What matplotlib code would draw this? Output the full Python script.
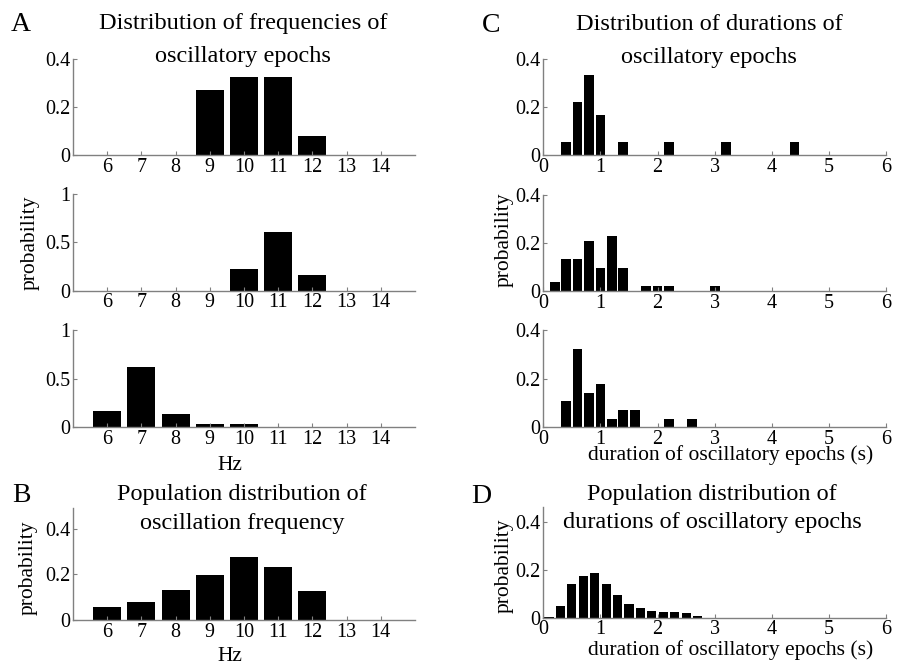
import numpy as np
import matplotlib
matplotlib.use("Agg")
import matplotlib.pyplot as plt
from matplotlib.ticker import FormatStrFormatter

plt.rcParams['font.family'] = ['Liberation Serif', 'DejaVu Serif']

# --- data ---
hz = [6, 7, 8, 9, 10, 11, 12, 13, 14]
freq_cell1 = [0, 0, 0, 0.27, 0.325, 0.325, 0.081, 0, 0]
freq_cell2 = [0, 0, 0, 0, 0.222, 0.611, 0.167, 0, 0]
freq_cell3 = [0.172, 0.62, 0.138, 0.034, 0.034, 0, 0, 0, 0]
freq_pop   = [0.058, 0.078, 0.13, 0.197, 0.277, 0.232, 0.128, 0, 0]

dur_c1 = [0.4, 0.6, 0.8, 1.0, 1.4, 2.2, 3.2, 4.4]
dur_p1 = [0.056, 0.222, 0.333, 0.167, 0.056, 0.056, 0.056, 0.056]
dur_c2 = [0.2, 0.4, 0.6, 0.8, 1.0, 1.2, 1.4, 1.8, 2.0, 2.2, 3.0]
dur_p2 = [0.038, 0.133, 0.133, 0.208, 0.095, 0.228, 0.095, 0.019, 0.019, 0.019, 0.019]
dur_c3 = [0.4, 0.6, 0.8, 1.0, 1.2, 1.4, 1.6, 2.2, 2.6]
dur_p3 = [0.107, 0.321, 0.143, 0.179, 0.036, 0.071, 0.071, 0.036, 0.036]
dur_cpop = [0.1, 0.3, 0.5, 0.7, 0.9, 1.1, 1.3, 1.5, 1.7, 1.9, 2.1, 2.3, 2.5, 2.7]
dur_ppop = [0.005, 0.051, 0.142, 0.173, 0.188, 0.143, 0.097, 0.059, 0.042,
            0.03, 0.025, 0.025, 0.019, 0.007]

W, H = 906, 665
GRAY = '#808080'
fig = plt.figure(figsize=(W / 100, H / 100), dpi=100)


def add_ax(left, top, right, bottom):
    """Axes from pixel box (origin top-left)."""
    return fig.add_axes([left / W, 1 - bottom / H, (right - left) / W, (bottom - top) / H])


def style(ax, xlim, ylim, xticks, yticks):
    for s in ['top', 'right']:
        ax.spines[s].set_visible(False)
    for s in ['left', 'bottom']:
        ax.spines[s].set_color(GRAY)
        ax.spines[s].set_linewidth(1.0)
    ax.tick_params(direction='in', length=3, width=0.8, color=GRAY,
                   labelsize=14.5, pad=2)
    ax.set_xlim(*xlim)
    ax.set_ylim(*ylim)
    ax.set_xticks(xticks)
    ax.set_yticks(yticks)
    ax.yaxis.set_major_formatter(FormatStrFormatter('%g'))
    ax.xaxis.set_major_formatter(FormatStrFormatter('%g'))


def ftext(x, y, s, **kw):
    fig.text(x / W, 1 - y / H, s, **kw)


# --- A: per-cell frequency distributions ---
a_rows = [(59, 155, freq_cell1, (0, 0.4), [0, 0.2, 0.4]),
          (194, 290.7, freq_cell2, (0, 1), [0, 0.5, 1]),
          (330, 427.3, freq_cell3, (0, 1), [0, 0.5, 1])]
for top, bot, vals, ylim, yt in a_rows:
    ax = add_ax(73, top, 415, bot)
    ax.bar(hz, vals, width=0.82, color='black', linewidth=0)
    style(ax, (5, 15), ylim, hz, yt)

# --- B: population frequency ---
axB = add_ax(73, 508.3, 415, 620)
axB.bar(hz, freq_pop, width=0.82, color='black', linewidth=0)
style(axB, (5, 15), (0, 0.49), hz, [0, 0.2, 0.4])

# --- C: per-cell duration distributions ---
c_rows = [(59.3, 155, dur_c1, dur_p1),
          (195, 291, dur_c2, dur_p2),
          (330, 427.3, dur_c3, dur_p3)]
for top, bot, cx, py in c_rows:
    ax = add_ax(543.3, top, 886, bot)
    ax.bar(cx, py, width=0.17, color='black', linewidth=0)
    style(ax, (0, 6), (0, 0.4), range(7), [0, 0.2, 0.4])

# --- D: population duration ---
axD = add_ax(543.3, 506.7, 886, 617.7)
axD.bar(dur_cpop, dur_ppop, width=0.16, color='black', linewidth=0)
style(axD, (0, 6), (0, 0.465), range(7), [0, 0.2, 0.4])

# --- titles, labels ---
tkw = dict(ha='center', va='baseline', fontsize=17.5)
ftext(243, 29.5, 'Distribution of frequencies of', **tkw)
ftext(243, 61.7, 'oscillatory epochs', **tkw)
ftext(709, 29.5, 'Distribution of durations of', **tkw)
ftext(709, 62.5, 'oscillatory epochs', **tkw)
ftext(242, 500, 'Population distribution of', **tkw)
ftext(242, 528.5, 'oscillation frequency', **tkw)
ftext(712, 500, 'Population distribution of', **tkw)
ftext(712, 528, 'durations of oscillatory epochs', **tkw)

pkw = dict(ha='left', va='baseline', fontsize=20)
ftext(11, 31, 'A', **pkw)
ftext(12, 502, 'B', **pkw)
ftext(482, 32, 'C', **pkw)
ftext(471, 503, 'D', **pkw)

lkw = dict(ha='center', va='center', rotation=90, fontsize=15.5)
ftext(30, 243, 'probability', **lkw)
ftext(28, 568, 'probability', **lkw)
ftext(504, 240, 'probability', **lkw)
ftext(504, 566, 'probability', **lkw)

xkw = dict(ha='center', va='baseline', fontsize=15.5)
ftext(230, 470, 'Hz', **xkw)
ftext(230, 661, 'Hz', **xkw)
ftext(731, 460, 'duration of oscillatory epochs (s)', **xkw)
ftext(731, 655, 'duration of oscillatory epochs (s)', **xkw)

fig.savefig('out.png', dpi=100)
